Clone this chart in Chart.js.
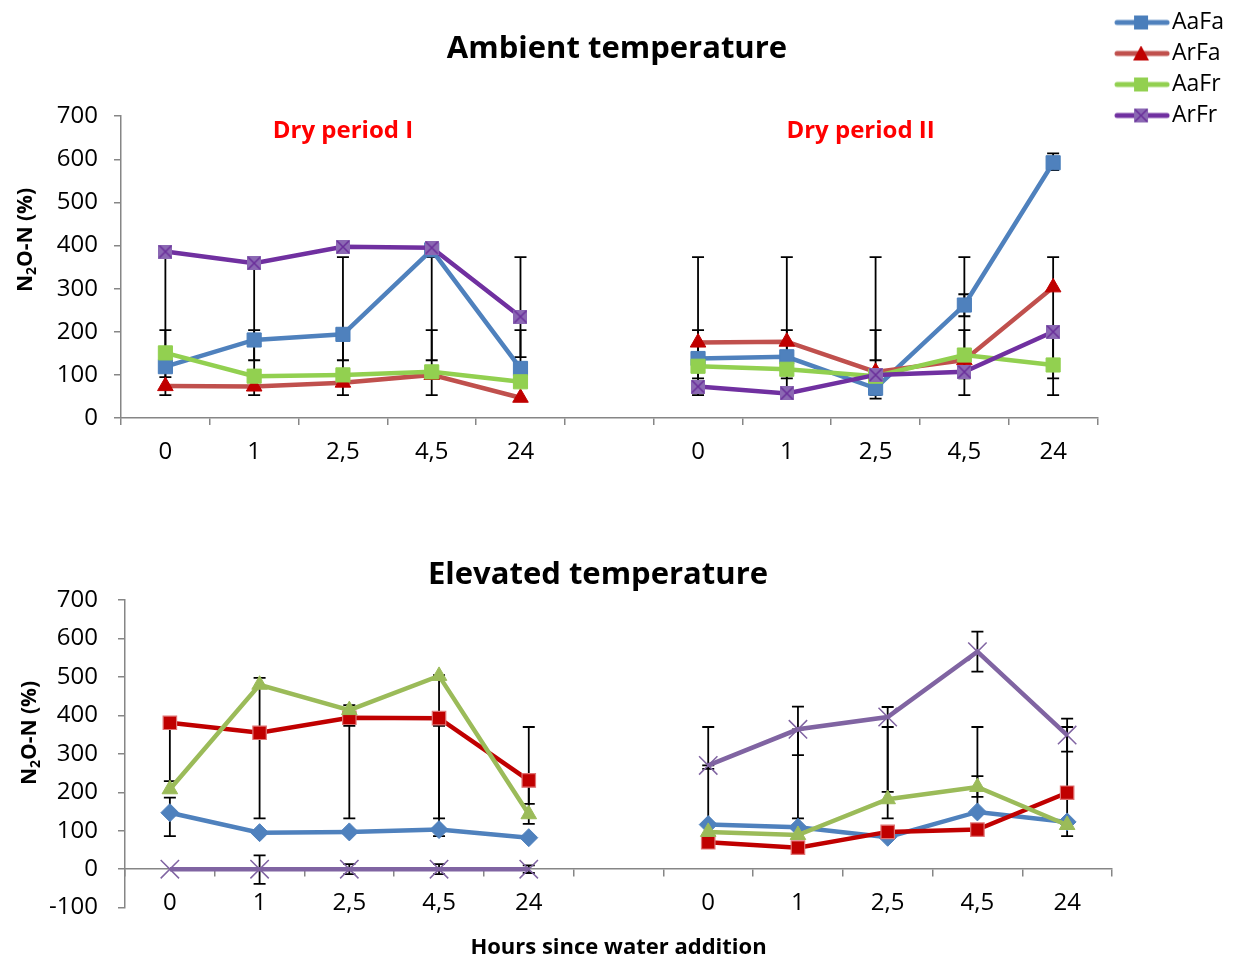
<!DOCTYPE html>
<html>
<head>
<meta charset="utf-8">
<script src="https://cdn.jsdelivr.net/npm/chart.js@4.4.0/dist/chart.umd.min.js"></script>
<style>
  html, body { margin: 0; padding: 0; background: #fff; overflow: hidden; }
  #wrap { position: relative; width: 1236px; height: 957px; }
  #ambientBox { position: absolute; left: 0; top: 0; width: 1236px; height: 490px; }
  #elevatedBox { position: absolute; left: 0; top: 490px; width: 1196px; height: 471px; }
</style>
</head>
<body>
<div id="wrap">
  <div id="ambientBox"><canvas id="ambientChart"></canvas></div>
  <div id="elevatedBox"><canvas id="elevatedChart"></canvas></div>
</div>
<script>
const FONT = '"Open Sans", Lato, sans-serif';

// x categories: two dry periods, empty slot between them
const hours = ['0', '1', '2,5', '4,5', '24', '', '0', '1', '2,5', '4,5', '24'];
const seriesNames = ['AaFa', 'ArFa', 'AaFr', 'ArFr'];
const periodNames = ['Dry period I', 'Dry period II'];
const yTitleParts = ['N', '2', 'O-N (%)'];

// N2O-N (%) at ambient temperature
const ambAaFa = [119, 181, 194, 390, 115, null, 138, 142, 69, 262, 592];
const ambArFa = [74, 73, 82, 100, 47, null, 175, 177, 107, 134, 303];
const ambAaFr = [151, 97, 100, 107, 84, null, 120, 113, 97, 146, 123];
const ambArFr = [386, 359, 397, 395, 235, null, 73, 57, 100, 107, 200];

// N2O-N (%) at elevated temperature
const elvAaFa = [147, 95, 97, 103, 82, null, 116, 109, 83, 149, 123];
const elvArFa = [381, 355, 394, 393, 231, null, 70, 56, 97, 103, 199];
const elvAaFr = [208, 480, 414, 503, 143, null, 97, 89, 182, 214, 115];
const elvArFr = [0, 0, 0, 0, 0, null, 270, 364, 396, 566, 349];

// error bar ranges [low, high] per category
const ambErr = [
  [[95, 385], [53, 204]],
  [[134, 357], [53, 204]],
  [[134, 373], [53, 204]],
  [[134, 373], [53, 204]],
  [[141, 373], [118, 204]],
  [],
  [[92, 373], [53, 204]],
  [[92, 373], [53, 204]],
  [[134, 373], [53, 204], [45, 100]],
  [[236, 287], [92, 373], [53, 204]],
  [[575, 614], [92, 373], [53, 204]]
];
const elvErr = [
  [[229, 381], [86, 186]],
  [[132, 498], [-38, 36]],
  [[373, 427], [132, 394], [-13, 13]],
  [[132, 505], [86, 373], [-13, 13]],
  [[118, 370], [170, 231], [-10, 10]],
  [],
  [[116, 370], [261, 270]],
  [[132, 423], [297, 364]],
  [[132, 422], [201, 370]],
  [[514, 618], [149, 370], [188, 242]],
  [[86, 392], [306, 370]]
];

// square marker with a cross through it
function boxCross(size, fill, stroke) {
  const c = document.createElement('canvas');
  c.width = c.height = size;
  const g = c.getContext('2d');
  g.fillStyle = fill;
  g.fillRect(0, 0, size, size);
  g.strokeStyle = stroke;
  g.lineWidth = 1.5;
  g.beginPath();
  g.moveTo(1, 1); g.lineTo(size - 1, size - 1);
  g.moveTo(size - 1, 1); g.lineTo(1, size - 1);
  g.stroke();
  return c;
}
const purpleMark = boxCross(14, '#8B68B3', '#6A2E9A');

// legend sample: line with marker, drawn off-centre so the text sits close
function legendIcon(lineColor, marker) {
  const c = document.createElement('canvas');
  c.width = 76; c.height = 16;
  const g = c.getContext('2d');
  g.strokeStyle = lineColor;
  g.lineWidth = 5;
  g.lineCap = 'round';
  g.beginPath(); g.moveTo(22, 8); g.lineTo(72, 8); g.stroke();
  marker(g, 46, 8);
  return c;
}
const legendIcons = [
  legendIcon('#4F81BD', (g, x, y) => { g.fillStyle = '#4A7EBB'; g.fillRect(x - 7, y - 7, 14, 14); }),
  legendIcon('#C0504D', (g, x, y) => {
    g.fillStyle = '#C00000';
    g.beginPath(); g.moveTo(x, y - 8); g.lineTo(x + 8, y + 7); g.lineTo(x - 8, y + 7); g.closePath(); g.fill();
  }),
  legendIcon('#92D050', (g, x, y) => { g.fillStyle = '#92D050'; g.fillRect(x - 7, y - 7, 14, 14); }),
  legendIcon('#7030A0', (g, x, y) => { g.drawImage(purpleMark, x - 7, y - 7); })
];

function errorBars(ranges) {
  return {
    id: 'errorBars',
    beforeDatasetsDraw(chart) {
      const {ctx, scales: {x, y}} = chart;
      ctx.save();
      ctx.strokeStyle = '#000';
      ctx.lineWidth = 1.8;
      ranges.forEach((list, i) => {
        const px = x.getPixelForValue(i);
        list.forEach(([lo, hi]) => {
          const y1 = y.getPixelForValue(lo);
          const y2 = y.getPixelForValue(hi);
          ctx.beginPath();
          ctx.moveTo(px, y1); ctx.lineTo(px, y2);
          ctx.moveTo(px - 6, y1); ctx.lineTo(px + 6, y1);
          ctx.moveTo(px - 6, y2); ctx.lineTo(px + 6, y2);
          ctx.stroke();
        });
      });
      ctx.restore();
    }
  };
}

// rotated y title with a real subscript 2
function yTitle(cx, cy) {
  return {
    id: 'yTitle',
    afterDraw(chart) {
      const ctx = chart.ctx;
      const sizes = [21, 14, 21];
      const shift = [0, 6, 0];
      ctx.save();
      ctx.translate(cx, cy);
      ctx.rotate(-Math.PI / 2);
      ctx.fillStyle = '#000';
      ctx.textBaseline = 'middle';
      let total = 0;
      const widths = yTitleParts.map((t, i) => {
        ctx.font = `bold ${sizes[i]}px ${FONT}`;
        const w = ctx.measureText(t).width;
        total += w;
        return w;
      });
      let x = -total / 2;
      yTitleParts.forEach((t, i) => {
        ctx.font = `bold ${sizes[i]}px ${FONT}`;
        ctx.fillText(t, x, shift[i]);
        x += widths[i];
      });
      ctx.restore();
    }
  };
}

const periodLabels = {
  id: 'periodLabels',
  afterDraw(chart) {
    const {ctx, chartArea, scales: {x}} = chart;
    ctx.save();
    ctx.fillStyle = '#FF0000';
    ctx.font = 'bold 24px ' + FONT;
    ctx.textAlign = 'center';
    ctx.textBaseline = 'middle';
    ctx.fillText(periodNames[0], x.getPixelForValue(2), chartArea.top + 15);
    ctx.fillText(periodNames[1], x.getPixelForValue(8) - 15, chartArea.top + 15);
    ctx.restore();
  }
};

const tickFont = {family: FONT, size: 24};

function yScale(min, width, pad) {
  return {
    min: min, max: 700,
    ticks: {stepSize: 100, color: '#000', font: tickFont, padding: pad},
    grid: {drawOnChartArea: false, tickLength: 7, color: '#868686', lineWidth: 1.5},
    border: {color: '#868686', width: 1.5},
    afterFit: s => { s.width = width; }
  };
}

function xScale(extra) {
  return Object.assign({
    offset: true,
    ticks: {color: '#000', font: tickFont, padding: 13, autoSkip: false, maxRotation: 0},
    grid: {offset: true, drawOnChartArea: false, tickLength: 7, color: '#868686', lineWidth: 1.5},
    border: {color: '#868686', width: 1.5}
  }, extra);
}

const ambientChart = new Chart(document.getElementById('ambientChart'), {
  type: 'line',
  data: {
    labels: hours,
    datasets: [
      {label: seriesNames[0], data: ambAaFa, order: 4, borderColor: '#4F81BD', backgroundColor: '#4F81BD',
       pointStyle: 'rect', pointRadius: 10, pointBorderColor: '#4A7EBB', pointBorderWidth: 1},
      {label: seriesNames[1], data: ambArFa, order: 3, borderColor: '#C0504D', backgroundColor: '#C00000',
       pointStyle: 'triangle', pointRadius: 9, pointBorderColor: '#C00000', pointBorderWidth: 1},
      {label: seriesNames[2], data: ambAaFr, order: 2, borderColor: '#92D050', backgroundColor: '#92D050',
       pointStyle: 'rect', pointRadius: 10, pointBorderColor: '#92D050', pointBorderWidth: 1},
      {label: seriesNames[3], data: ambArFr, order: 1, borderColor: '#7030A0', backgroundColor: '#8B68B3',
       pointStyle: purpleMark, pointRadius: 7}
    ]
  },
  options: {
    responsive: true,
    maintainAspectRatio: false,
    animation: false,
    datasets: {line: {borderWidth: 4.5, spanGaps: false, tension: 0}},
    layout: {padding: {top: 3, right: 2}},
    plugins: {
      title: {display: true, text: 'Ambient temperature', color: '#000',
              font: {family: FONT, size: 31, weight: 'bold'}, padding: {top: 28, bottom: 48}},
      legend: {
        position: 'right',
        align: 'start',
        labels: {
          usePointStyle: true,
          pointStyleWidth: 55,
          padding: 8,
          color: '#000',
          font: {family: FONT, size: 23},
          sort: (a, b) => a.datasetIndex - b.datasetIndex,
          generateLabels: chart => Chart.defaults.plugins.legend.labels.generateLabels(chart)
            .map(item => Object.assign(item, {pointStyle: legendIcons[item.datasetIndex]}))
        }
      },
      tooltip: {enabled: false}
    },
    scales: {
      x: xScale({afterFit: s => { s.height = 72; }}),
      y: yScale(0, 121, 16)
    }
  },
  plugins: [errorBars(ambErr), periodLabels, yTitle(26, 240)]
});

const elevatedChart = new Chart(document.getElementById('elevatedChart'), {
  type: 'line',
  data: {
    labels: hours,
    datasets: [
      {label: seriesNames[0], data: elvAaFa, order: 4, borderColor: '#4F81BD', backgroundColor: '#4F81BD',
       pointStyle: 'rectRot', pointRadius: 9, pointBorderColor: '#4F81BD', pointBorderWidth: 1},
      {label: seriesNames[1], data: elvArFa, order: 3, borderColor: '#C00000', backgroundColor: '#C00000',
       pointStyle: 'rect', pointRadius: 9.5, pointBorderColor: '#E07575', pointBorderWidth: 1.2},
      {label: seriesNames[2], data: elvAaFr, order: 2, borderColor: '#9BBB59', backgroundColor: '#9BBB59',
       pointStyle: 'triangle', pointRadius: 9, pointBorderColor: '#9BBB59', pointBorderWidth: 1},
      {label: seriesNames[3], data: elvArFr, order: 1, borderColor: '#8064A2', backgroundColor: '#8064A2',
       pointStyle: 'crossRot', pointRadius: 13, pointBorderColor: '#8064A2', pointBorderWidth: 1.5}
    ]
  },
  options: {
    responsive: true,
    maintainAspectRatio: false,
    animation: false,
    datasets: {line: {borderWidth: 4.5, spanGaps: false, tension: 0}},
    plugins: {
      title: {display: true, text: 'Elevated temperature', color: '#000',
              font: {family: FONT, size: 31, weight: 'bold'}, padding: {top: 67, bottom: 6}},
      subtitle: {display: true, position: 'bottom', fullSize: false, text: 'Hours since water addition', color: '#000',
                 font: {family: FONT, size: 22, weight: 'bold'}, padding: {top: 27, bottom: 0}},
      legend: {display: false},
      tooltip: {enabled: false}
    },
    scales: {
      x: xScale({position: {y: 0}}),
      y: yScale(-100, 125, 20),
      // empty right-hand margin so the title centres over the whole figure
      spacer: {type: 'linear', position: 'right', ticks: {display: false}, grid: {display: false},
               border: {display: false}, afterFit: s => { s.width = 84; }}
    }
  },
  plugins: [errorBars(elvErr), yTitle(30, 243)]
});
</script>
</body>
</html>
